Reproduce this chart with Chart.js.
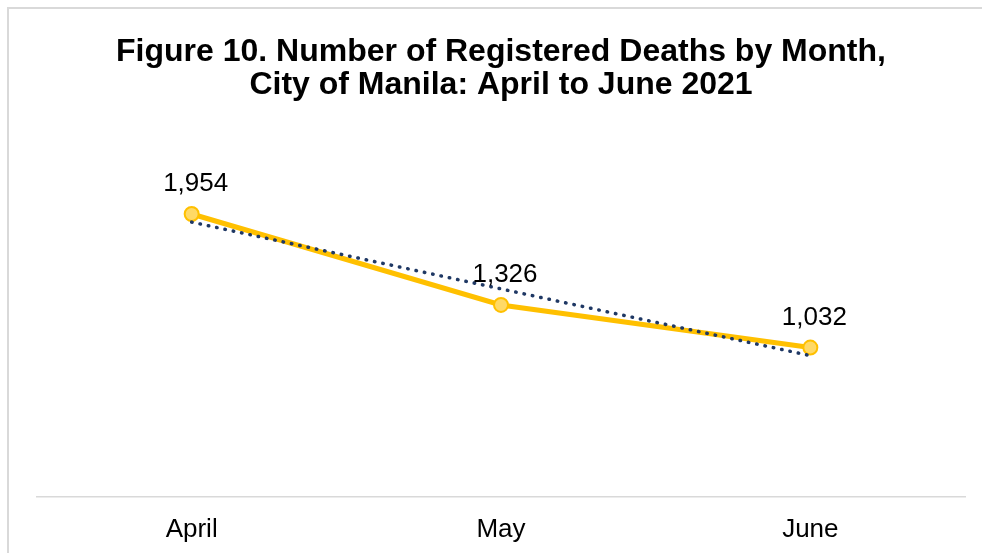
<!DOCTYPE html>
<html>
<head>
<meta charset="utf-8">
<script src="https://cdn.jsdelivr.net/npm/chart.js@4.4.1/dist/chart.umd.min.js"></script>
<style>
  html, body { margin: 0; padding: 0; background: #fff; overflow: hidden; }
  .frame { position: absolute; left: 7px; top: 7px; width: 2000px; height: 2000px; border: 2px solid #d9d9d9; }
  .wrap { position: absolute; left: 0; top: 0; width: 982px; height: 553px; }
</style>
</head>
<body>
<div class="frame"></div>
<div class="wrap"><canvas id="chart-deaths"></canvas></div>
<script>
// data
const months = ['April', 'May', 'June'];
const deaths = [1954, 1326, 1032];
const trendLine = [1898, 1437, 976]; // linear trendline as it sits in the figure
const yTicks = [0, 2500];

// labels over each point (1,954 etc)
const pointLabels = {
    id: 'pointLabels',
    afterDatasetsDraw(chart) {
        const ctx = chart.ctx;
        const meta = chart.getDatasetMeta(0);
        ctx.save();
        ctx.font = '26px "Liberation Sans", Arial, sans-serif';
        ctx.fillStyle = '#000';
        ctx.textAlign = 'center';
        ctx.textBaseline = 'middle';
        meta.data.forEach((pt, i) => {
            ctx.fillText(deaths[i].toLocaleString('en-US'), pt.x + 4, pt.y - 30);
        });
        ctx.restore();
    }
};

const chartDeaths = document.getElementById('chart-deaths');

new Chart(chartDeaths, {
    type: 'line',
    data: {
        labels: months,
        datasets: [{
            label: 'Registered deaths',
            data: deaths,
            borderColor: '#ffc000',
            borderWidth: 5,
            pointRadius: 7,
            pointBackgroundColor: '#ffd966',
            pointBorderColor: '#ffc000',
            pointBorderWidth: 2,
            tension: 0,
            order: 2
        }, {
            label: 'Linear trend',
            data: trendLine,
            borderColor: '#1f3864',
            borderWidth: 3.5,
            borderDash: [0.5, 8],
            borderCapStyle: 'round',
            pointRadius: 0,
            tension: 0,
            order: 1
        }]
    },
    options: {
        responsive: true,
        maintainAspectRatio: false,
        animation: false,
        layout: { padding: { left: 37, right: 17, top: 0, bottom: -10 } },
        plugins: {
            legend: { display: false },
            tooltip: { enabled: false },
            title: {
                display: true,
                text: ['Figure 10. Number of Registered Deaths by Month,', 'City of Manila: April to June 2021'],
                color: '#000',
                font: { family: '"Liberation Sans", Arial, sans-serif', size: 32, weight: 'bold', lineHeight: 1.03 },
                padding: { top: 35.5, bottom: 33.5 }
            }
        },
        scales: {
            x: {
                offset: true,
                grid: { display: false, drawTicks: false },
                border: { display: true, color: '#d9d9d9', width: 1.5 },
                ticks: {
                    color: '#000',
                    padding: 20,
                    font: { family: '"Liberation Sans", Arial, sans-serif', size: 26, lineHeight: 1 }
                }
            },
            y: {
                display: false,
                min: yTicks[0],
                max: yTicks[1]
            }
        }
    },
    plugins: [pointLabels]
});
</script>
</body>
</html>
